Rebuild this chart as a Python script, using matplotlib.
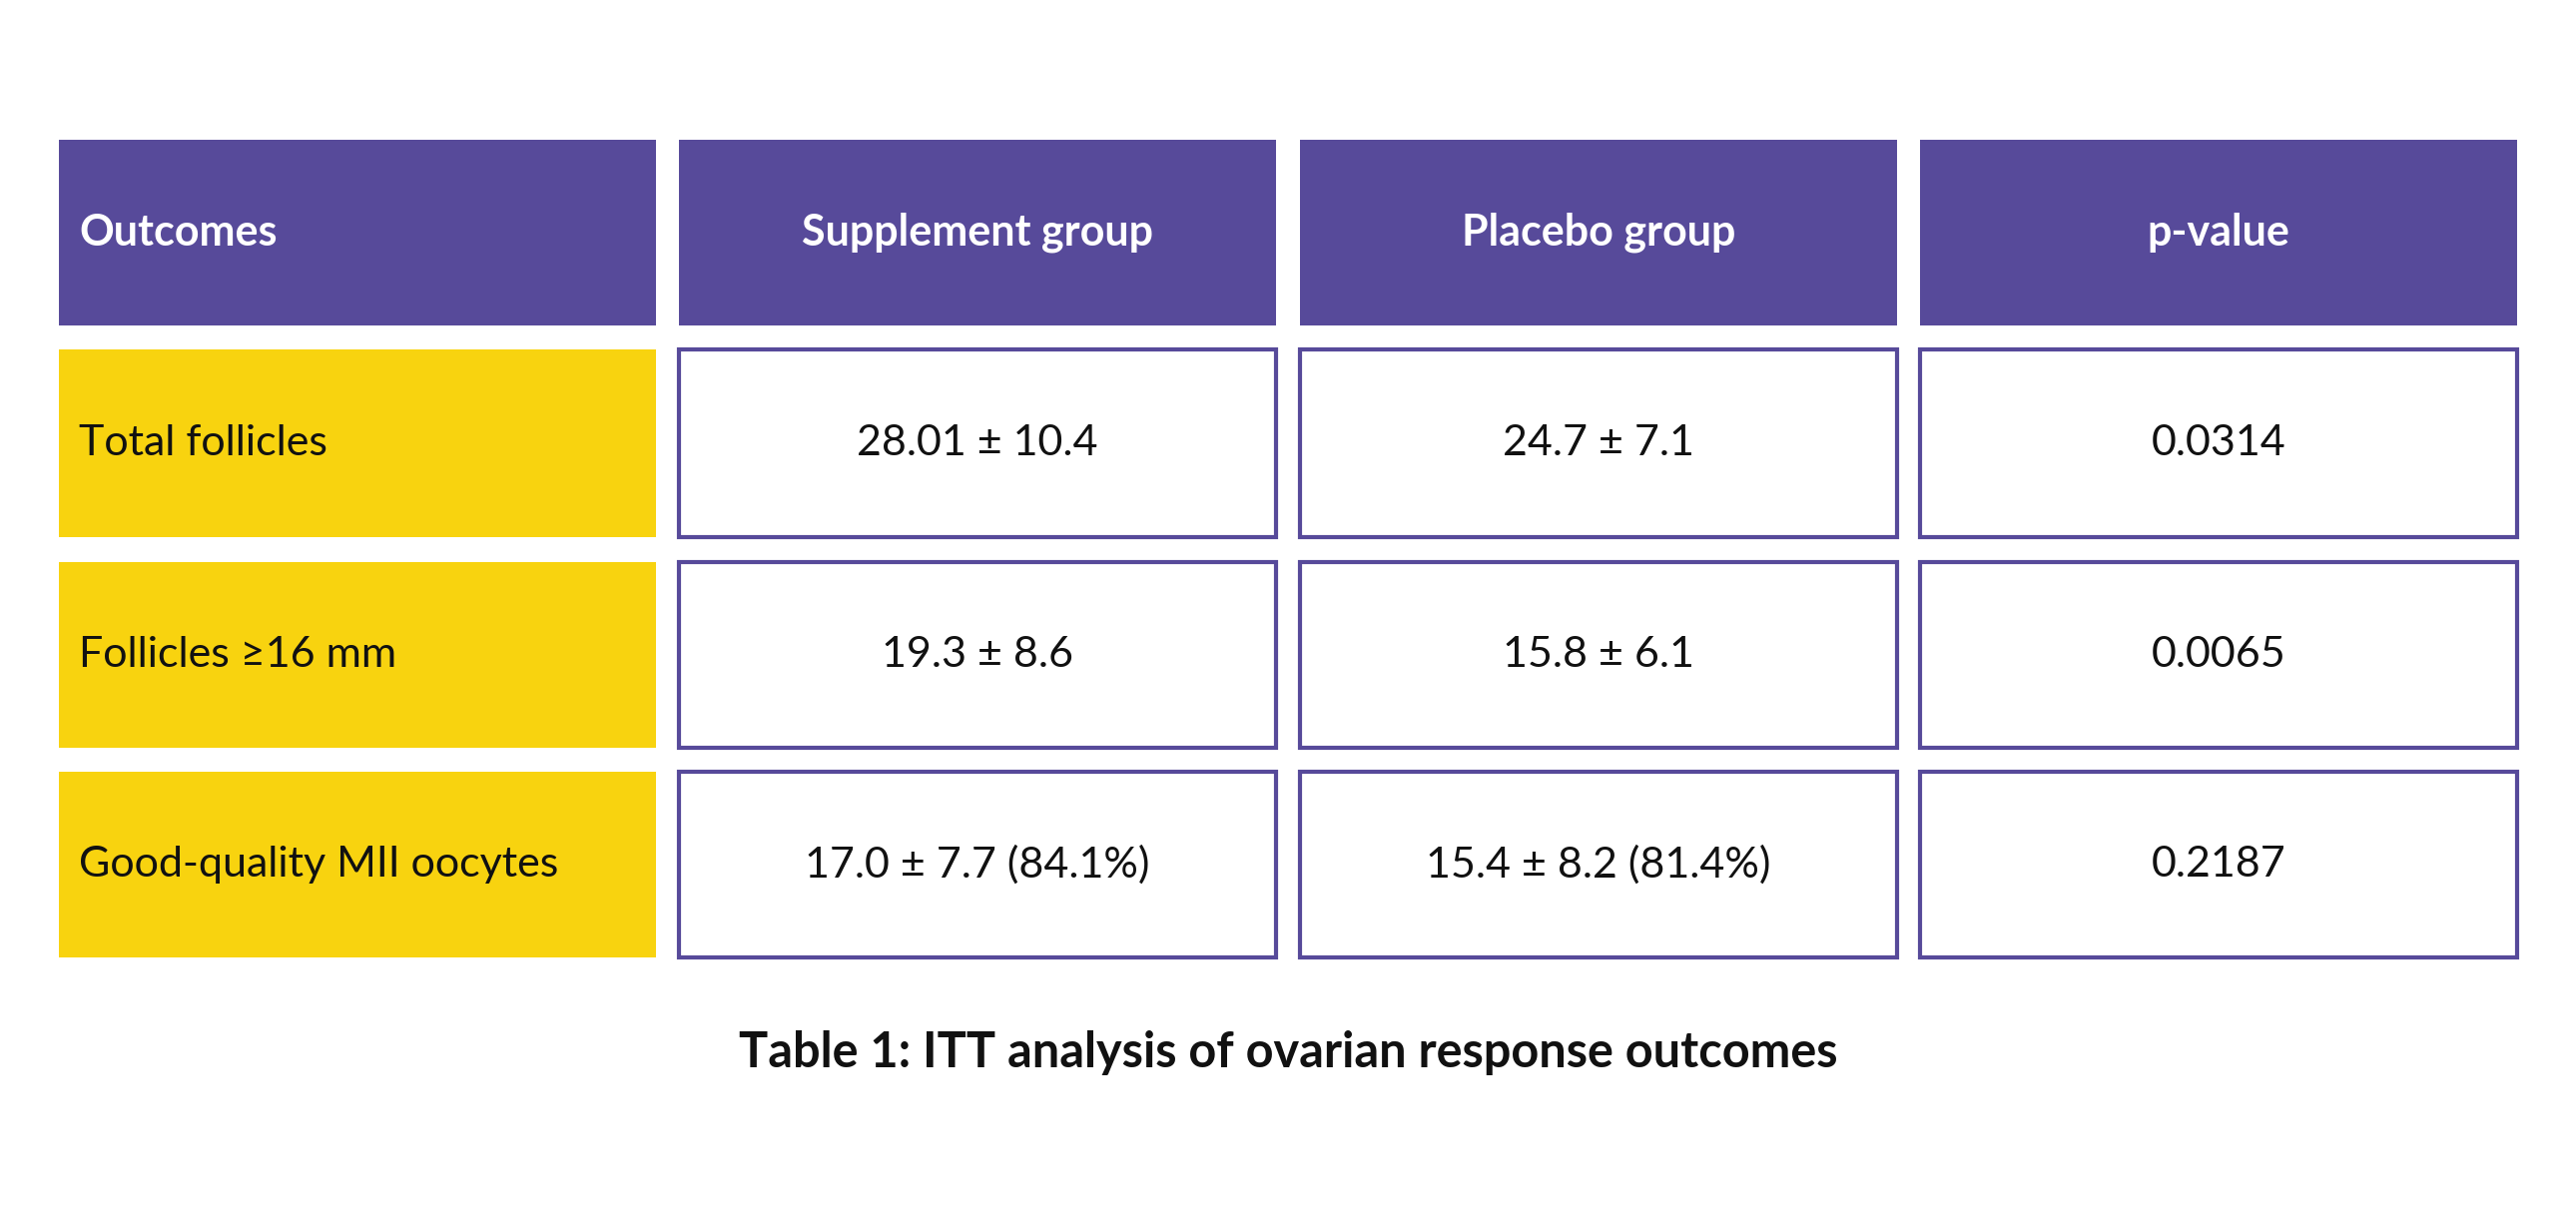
import matplotlib
matplotlib.use("Agg")
import matplotlib.pyplot as plt
from matplotlib.patches import Rectangle

headers = ["Outcomes", "Supplement group", "Placebo group", "p-value"]
outcomes = ["Total follicles", "Follicles ≥16 mm", "Good-quality MII oocytes"]
supplement = ["28.01 ± 10.4", "19.3 ± 8.6", "17.0 ± 7.7 (84.1%)"]
placebo = ["24.7 ± 7.1", "15.8 ± 6.1", "15.4 ± 8.2 (81.4%)"]
pvalues = ["0.0314", "0.0065", "0.2187"]
title = "Table 1: ITT analysis of ovarian response outcomes"

PURPLE = "#574A9A"
YELLOW = "#F8D30F"
plt.rcParams['font.family'] = ['Lato', 'DejaVu Sans']

fig = plt.figure(figsize=(25.8, 12.29), dpi=100)
ax = fig.add_axes([0, 0, 1, 1])
ax.set_xlim(0, 1568); ax.set_ylim(747, 0); ax.axis('off')

cols = [(36, 399), (413, 777), (791, 1155), (1169, 1532)]
rows = [(85, 198), (213, 327), (342, 455), (470, 583)]

for j, (x0, x1) in enumerate(cols):
    y0, y1 = rows[0]
    ax.add_patch(Rectangle((x0, y0), x1 - x0, y1 - y0, color=PURPLE, lw=0))
    if j == 0:
        ax.text(x0 + 12, (y0 + y1) / 2, headers[j], color='white', fontsize=31,
                fontweight='bold', ha='left', va='center')
    else:
        ax.text((x0 + x1) / 2, (y0 + y1) / 2, headers[j], color='white', fontsize=31,
                fontweight='bold', ha='center', va='center')

for i, (y0, y1) in enumerate(rows[1:]):
    yc = (y0 + y1) / 2
    x0, x1 = cols[0]
    ax.add_patch(Rectangle((x0, y0), x1 - x0, y1 - y0, color=YELLOW, lw=0))
    ax.text(x0 + 12, yc, outcomes[i], fontsize=31, ha='left', va='center', color='#111111')
    for j, vals in enumerate([supplement, placebo, pvalues], start=1):
        x0, x1 = cols[j]
        ax.add_patch(Rectangle((x0, y0), x1 - x0, y1 - y0, facecolor='white',
                               edgecolor=PURPLE, lw=3))
        ax.text((x0 + x1) / 2, yc, vals[i], fontsize=31, ha='center', va='center',
                color='#111111')

ax.text(784, 641, title, fontsize=35, fontweight='bold', ha='center', va='center',
        color='#111111')

fig.savefig("out.png", dpi=100, facecolor='white')
